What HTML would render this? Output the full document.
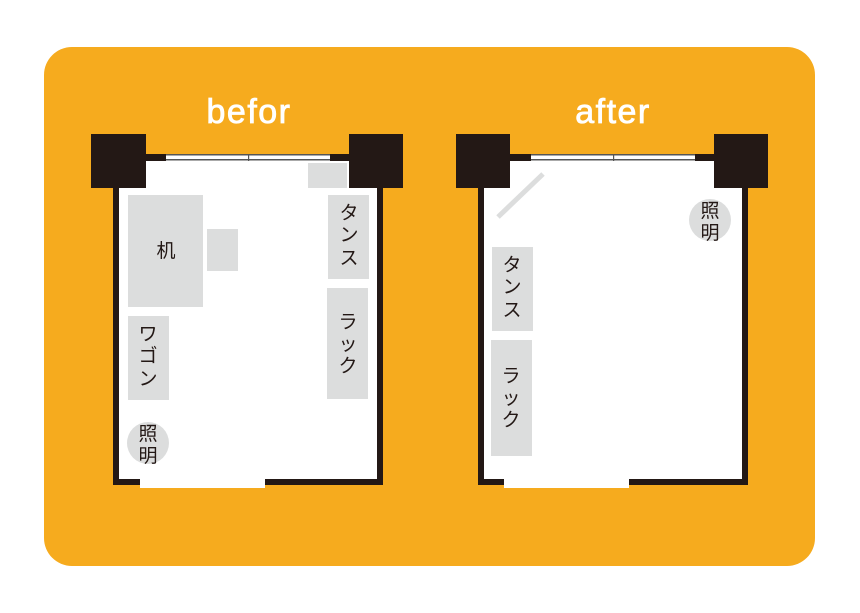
<!DOCTYPE html>
<html><head><meta charset="utf-8"><style>
html,body{margin:0;padding:0;background:#fff;}
svg{display:block}
text{font-family:"Liberation Sans","Noto Sans CJK JP",sans-serif;}
</style></head><body>
<svg width="860" height="613" viewBox="0 0 860 613" xmlns="http://www.w3.org/2000/svg">
<rect x="44" y="47" width="771" height="519" rx="28" fill="#f6ab1e"/>
<text x="249" y="123" font-size="34" fill="#fff" stroke="#fff" stroke-width="0.8" letter-spacing="1.5" text-anchor="middle">befor</text>
<text x="613" y="123" font-size="34" fill="#fff" stroke="#fff" stroke-width="0.8" letter-spacing="1.5" text-anchor="middle">after</text>

<!-- BEFORE -->
<rect x="113" y="154" width="270" height="331" fill="#231815"/>
<rect x="119" y="161" width="258" height="318" fill="#fff"/>
<rect x="166" y="154" width="164" height="7" fill="#fff"/>
<rect x="166" y="154" width="164" height="1.5" fill="#555"/>
<rect x="166" y="159" width="164" height="1.5" fill="#555"/>
<rect x="248" y="154" width="1.2" height="7" fill="#555"/>
<rect x="140" y="479" width="125" height="9" fill="#fff"/>
<rect x="91" y="134" width="55" height="54" fill="#231815"/>
<rect x="349" y="134" width="54" height="54" fill="#231815"/>
<rect x="308" y="163" width="39" height="25" fill="#dcdddd"/>
<rect x="128" y="195" width="75" height="112" fill="#dcdddd"/>
<rect x="207" y="229" width="31" height="42" fill="#dcdddd"/>
<rect x="128" y="316" width="41" height="84" fill="#dcdddd"/>
<rect x="328" y="195" width="41" height="84" fill="#dcdddd"/>
<rect x="327" y="288" width="41" height="111" fill="#dcdddd"/>
<circle cx="148" cy="443" r="21" fill="#dcdddd"/>
<g fill="#231815" font-size="19" text-anchor="middle">
<text x="166" y="257">机</text>
<text x="148" y="340">ワ</text><text x="148" y="362">ゴ</text><text x="148" y="385">ン</text>
<text x="349" y="219">タ</text><text x="349" y="241">ン</text><text x="349" y="264">ス</text>
<text x="348" y="328">ラ</text><text x="348" y="350">ッ</text><text x="348" y="372">ク</text>
<text x="148" y="440">照</text><text x="148" y="462">明</text>
</g>

<!-- AFTER -->
<rect x="478" y="154" width="270" height="331" fill="#231815"/>
<rect x="484" y="161" width="258" height="318" fill="#fff"/>
<rect x="531" y="154" width="164" height="7" fill="#fff"/>
<rect x="531" y="154" width="164" height="1.5" fill="#555"/>
<rect x="531" y="159" width="164" height="1.5" fill="#555"/>
<rect x="613" y="154" width="1.2" height="7" fill="#555"/>
<rect x="504" y="479" width="125" height="9" fill="#fff"/>
<rect x="456" y="134" width="54" height="54" fill="#231815"/>
<rect x="714" y="134" width="54" height="54" fill="#231815"/>
<line x1="498" y1="217" x2="543" y2="174" stroke="#dcdddd" stroke-width="5"/>
<rect x="492" y="247" width="41" height="84" fill="#dcdddd"/>
<rect x="491" y="340" width="41" height="116" fill="#dcdddd"/>
<circle cx="710" cy="220" r="21" fill="#dcdddd"/>
<g fill="#231815" font-size="19" text-anchor="middle">
<text x="512" y="271">タ</text><text x="512" y="293">ン</text><text x="512" y="316">ス</text>
<text x="511" y="382">ラ</text><text x="511" y="404">ッ</text><text x="511" y="426">ク</text>
<text x="710" y="217">照</text><text x="710" y="239">明</text>
</g>
</svg>
</body></html>
